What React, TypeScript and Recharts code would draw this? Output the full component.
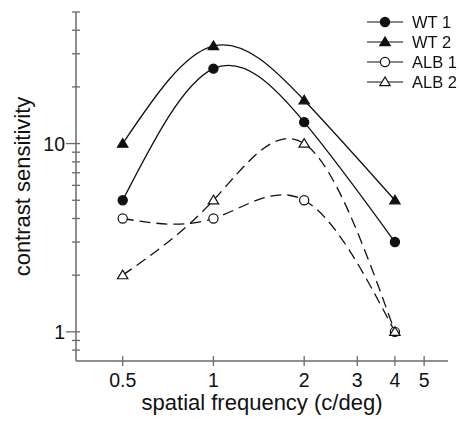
import React from 'react';
import { LineChart, Line, XAxis, YAxis } from 'recharts';

// spatial frequency (c/deg)
const freqs = [0.5, 1, 2, 4];
// contrast sensitivity per group
const wt1 = [5, 25, 13, 3];
const wt2 = [10, 33, 17, 5];
const alb1 = [4, 4, 5, 1];
const alb2 = [2, 5, 10, 1];

const xTicks = [0.5, 1, 2, 3, 4, 5];
const yTicks = [0.8, 0.9, 1, 2, 3, 4, 5, 6, 7, 8, 9, 10, 20, 30, 40, 50];
const yLabeled = [1, 10];

const data = freqs.map((f, i) => ({
  freq: f,
  wt1: wt1[i],
  wt2: wt2[i],
  alb1: alb1[i],
  alb2: alb2[i],
}));

const FONT = '"Liberation Sans", Arial, sans-serif';
const INK = '#111';
const AXIS = '#6a6a6a';

type Marker = 'circle' | 'triangle';

const markerShape = (kind: Marker, filled: boolean, cx: number, cy: number, key?: string | number) => {
  const fill = filled ? INK : '#fff';
  if (kind === 'circle') {
    return <circle key={key} cx={cx} cy={cy} r={4.6} fill={fill} stroke={INK} strokeWidth={1.2} />;
  }
  const pts = `${cx},${cy - 5} ${cx - 5.2},${cy + 3.6} ${cx + 5.2},${cy + 3.6}`;
  return <polygon key={key} points={pts} fill={fill} stroke={INK} strokeWidth={1.2} />;
};

const makeDot = (kind: Marker, filled: boolean) => (props: any) =>
  markerShape(kind, filled, props.cx, props.cy, `dot-${props.index}`);

const series = [
  { key: 'wt1', name: 'WT 1', kind: 'circle' as Marker, filled: true, dash: undefined },
  { key: 'wt2', name: 'WT 2', kind: 'triangle' as Marker, filled: true, dash: undefined },
  { key: 'alb1', name: 'ALB 1', kind: 'circle' as Marker, filled: false, dash: '11 6' },
  { key: 'alb2', name: 'ALB 2', kind: 'triangle' as Marker, filled: false, dash: '11 6' },
];

const YTick = (props: any) => {
  const { x, y, payload } = props;
  const major = yLabeled.includes(payload.value);
  return (
    <g>
      <line x1={x - (major ? 10 : 4)} x2={x + 4} y1={y} y2={y} stroke={AXIS} strokeWidth={1.3} />
      {major && (
        <text x={x - 11} y={y} dy="0.36em" textAnchor="end" fontSize={19.5} fontFamily={FONT} fill={INK}>
          {payload.value}
        </text>
      )}
    </g>
  );
};

const XTick = (props: any) => {
  const { x, y, payload } = props;
  return (
    <g>
      <line x1={x} x2={x} y1={y - 5} y2={y + 5} stroke={AXIS} strokeWidth={1.3} />
      <text x={x} y={y + 19} dy="0.36em" textAnchor="middle" fontSize={19.5} fontFamily={FONT} fill={INK}>
        {payload.value}
      </text>
    </g>
  );
};

const XLabel = (props: any) => {
  const vb = props.viewBox;
  return (
    <text x={vb.x + vb.width / 2} y={vb.y + 49} textAnchor="middle" fontSize={22} fontFamily={FONT} fill={INK}>
      spatial frequency (c/deg)
    </text>
  );
};

const YLabel = (props: any) => {
  const vb = props.viewBox;
  const x = vb.x + 21.5;
  const y = vb.y + vb.height / 2;
  return (
    <text x={x} y={y} transform={`rotate(-90 ${x} ${y})`} textAnchor="middle" fontSize={22} fontFamily={FONT} fill={INK}>
      contrast sensitivity
    </text>
  );
};

// legend sits near the page's right edge, past the body margin, so it is fixed to the viewport
const LegendBox = () => (
  <div
    style={{
      position: 'fixed',
      left: 367,
      top: 11.5,
      width: 93,
      whiteSpace: 'nowrap',
      fontFamily: FONT,
      fontSize: 16.5,
      color: INK,
    }}
  >
    {series.map((s) => (
      <div key={s.key} style={{ display: 'flex', alignItems: 'center', height: 20 }}>
        <svg width={36} height={20} style={{ flexShrink: 0 }}>
          <line x1={0} x2={36} y1={10} y2={10} stroke={INK} strokeWidth={1.2} />
          {markerShape(s.kind, s.filled, 18, 10)}
        </svg>
        <span style={{ marginLeft: 9, lineHeight: '20px' }}>{s.name}</span>
      </div>
    ))}
  </div>
);

const App: React.FC = () => {
  return (
    <div style={{ position: 'relative', width: 444, height: 407 }}>
      <LineChart width={444} height={407} data={data} margin={{ top: 4, right: 4, bottom: 0, left: 0 }}>
        <XAxis
          dataKey="freq"
          type="number"
          scale="log"
          domain={[0.35, 6]}
          allowDataOverflow
          ticks={xTicks}
          interval={0}
          tickSize={0}
          tickMargin={0}
          tickLine={false}
          tick={XTick}
          height={54}
          stroke={AXIS}
          strokeWidth={1.5}
          label={XLabel}
        />
        <YAxis
          type="number"
          scale="log"
          domain={[0.7, 50]}
          allowDataOverflow
          ticks={yTicks}
          interval={0}
          tickSize={0}
          tickMargin={0}
          tickLine={false}
          tick={YTick}
          width={68}
          stroke={AXIS}
          strokeWidth={1.5}
          label={YLabel}
        />
        {series.map((s) => (
          <Line
            key={s.key}
            dataKey={s.key}
            name={s.name}
            type="natural"
            stroke={INK}
            strokeWidth={1.3}
            strokeDasharray={s.dash}
            dot={makeDot(s.kind, s.filled)}
            activeDot={false}
            isAnimationActive={false}
          />
        ))}
      </LineChart>
      <LegendBox />
    </div>
  );
};

export default App;
